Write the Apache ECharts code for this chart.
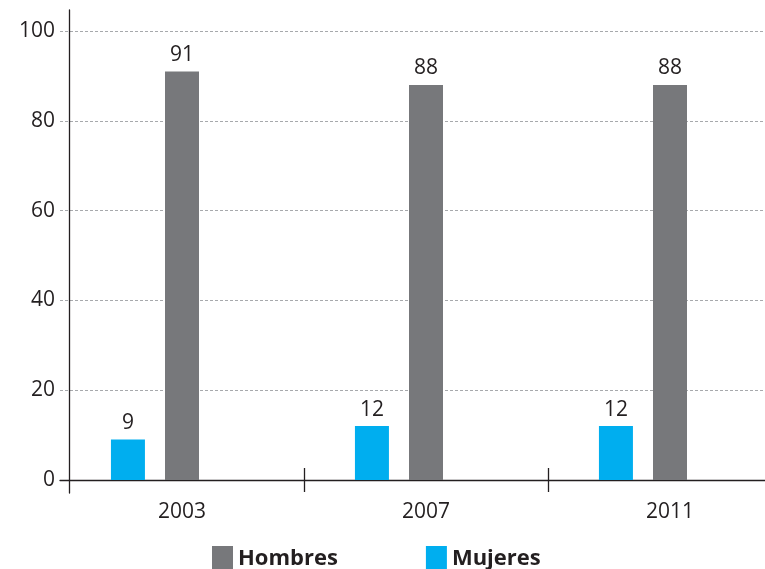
<!DOCTYPE html>
<html>
<head>
<meta charset="utf-8">
<script src="https://cdn.jsdelivr.net/npm/echarts@6/dist/echarts.min.js"></script>
<style>
html,body{margin:0;padding:0;background:#fff;overflow:hidden;}
/* wider than the window so the last band can run past the right edge */
#chart{width:800px;height:569px;}
</style>
</head>
<body>
<div id="chart"></div>
<script>
// data
const years = ['2003', '2007', '2011'];
const mujeres = [9, 12, 12];
const hombres = [91, 88, 88];
const yTicks = [0, 20, 40, 60, 80, 100];

const font = "'Open Sans', sans-serif";
const dark = '#231f20';

function skipFirst(index, value) {
  return value !== years[0];
}

let chart = echarts.init(document.getElementById('chart'));
chart.setOption({
  animation: false,
  textStyle: { fontFamily: font },
  legend: {
    data: ['Hombres', 'Mujeres'],
    left: 207,
    top: 541,
    icon: 'rect',
    itemWidth: 21,
    itemHeight: 26,
    itemGap: 88,
    textStyle: { fontSize: 22, fontWeight: 'bold', color: dark, fontFamily: font }
  },
  grid: [
    { left: 60, width: 732, top: 31, bottom: 89 },
    // only used to draw the long vertical axis line
    { left: 69, width: 10, top: 10, bottom: 76 }
  ],
  xAxis: [
    {
      type: 'category',
      gridIndex: 0,
      data: years,
      axisLine: { lineStyle: { color: dark, width: 1.3 } },
      axisTick: { show: true, interval: skipFirst, length: 12, lineStyle: { color: dark, width: 1.3 } },
      axisLabel: { fontSize: 21, color: dark, margin: 22, fontFamily: font, interval: 0 }
    },
    {
      type: 'category',
      gridIndex: 0,
      data: years,
      position: 'bottom',
      axisLine: { show: false },
      axisTick: { show: true, interval: skipFirst, inside: true, length: 12, lineStyle: { color: dark, width: 1.3 } },
      axisLabel: { show: false }
    },
    { type: 'value', gridIndex: 1, show: false }
  ],
  yAxis: [
    {
      type: 'value',
      gridIndex: 0,
      min: yTicks[0],
      max: yTicks[yTicks.length - 1],
      interval: 20,
      axisLine: { show: false },
      axisTick: { show: false },
      axisLabel: { fontSize: 21, color: dark, margin: 5, fontFamily: font },
      splitLine: { lineStyle: { color: '#a7a9ac', type: [3, 2], width: 1 } }
    },
    {
      type: 'value',
      gridIndex: 1,
      min: 0,
      max: 1,
      axisLine: { show: true, lineStyle: { color: dark, width: 1.3 } },
      axisTick: { show: false },
      axisLabel: { show: false },
      splitLine: { show: false }
    }
  ],
  series: [
    {
      name: 'Mujeres',
      type: 'bar',
      data: mujeres,
      barWidth: 34,
      barGap: '59%',
      itemStyle: { color: '#00aeef' },
      label: { show: true, position: 'top', distance: 6, fontSize: 21, color: dark, fontFamily: font }
    },
    {
      name: 'Hombres',
      type: 'bar',
      data: hombres,
      barWidth: 34,
      barGap: '59%',
      itemStyle: { color: '#77787b' },
      label: { show: true, position: 'top', distance: 6, fontSize: 21, color: dark, fontFamily: font }
    },
    {
      // empty slot that keeps the pair left of the band centre
      name: '',
      type: 'bar',
      data: ['-', '-', '-'],
      barWidth: 34,
      barGap: '59%'
    }
  ]
});
</script>
</body>
</html>
